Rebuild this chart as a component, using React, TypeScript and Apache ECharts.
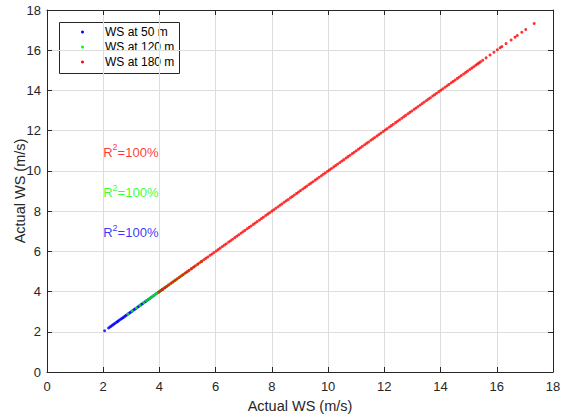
import React, { useEffect, useRef } from "react";
import * as echarts from "echarts";

// Wind speed samples (m/s); each point is plotted as (actual, actual)
const ws50: number[] = [
  2.05, 2.19, 2.24, 2.28, 2.33, 2.37, 2.41, 2.46, 2.5, 2.53, 2.57, 2.62, 2.66, 2.7, 2.74, 2.79,
  2.83, 2.88, 2.92, 2.95, 3.0, 3.04, 3.09, 3.13, 3.17, 3.22, 3.26, 3.3, 3.35, 3.39, 3.43, 3.48,
  3.52, 3.56, 3.61, 3.65, 3.7, 3.74, 3.79, 3.84, 3.9, 3.96, 4.03, 4.12, 4.2,
];
const ws120: number[] = [
  2.88, 3.03, 3.18, 3.31, 3.44, 3.54, 3.62, 3.69, 3.76, 3.83, 3.9, 3.96,
  4.01, 4.07, 4.13, 4.2, 4.26, 4.33, 4.39, 4.45, 4.52, 4.58, 4.65, 4.72, 4.8, 4.87, 4.95, 5.04,
  5.13, 5.24, 5.36, 5.5,
];
const ws180: number[] = [
  3.98, 4.05, 4.11, 4.19, 4.26, 4.33, 4.41, 4.48, 4.55, 4.62, 4.7, 4.77, 4.84, 4.92, 4.99, 5.06,
  5.14, 5.21, 5.28, 5.36, 5.43, 5.5, 5.58, 5.65, 5.72, 5.8, 5.87, 5.94, 6.02, 6.09, 6.16, 6.24,
  6.31, 6.38, 6.46, 6.53, 6.6, 6.68, 6.75, 6.82, 6.9, 6.97, 7.04, 7.12, 7.19, 7.26, 7.34, 7.41,
  7.48, 7.56, 7.63, 7.7, 7.78, 7.85, 7.92, 8.0, 8.07, 8.14, 8.22, 8.29, 8.36, 8.44, 8.51, 8.58,
  8.66, 8.73, 8.8, 8.88, 8.95, 9.02, 9.1, 9.17, 9.24, 9.32, 9.39, 9.46, 9.54, 9.61, 9.68, 9.76,
  9.83, 9.9, 9.98, 10.05, 10.12, 10.2, 10.27, 10.34, 10.42, 10.49, 10.56, 10.64, 10.71, 10.78,
  10.86, 10.93, 11.0, 11.08, 11.15, 11.22, 11.3, 11.37, 11.44, 11.52, 11.59, 11.66, 11.74, 11.81,
  11.88, 11.96, 12.03, 12.1, 12.18, 12.25, 12.32, 12.4, 12.47, 12.54, 12.62, 12.69, 12.76, 12.84,
  12.91, 12.98, 13.06, 13.13, 13.2, 13.28, 13.35, 13.42, 13.5, 13.57, 13.64, 13.72, 13.79, 13.86,
  13.94, 14.01, 14.08, 14.16, 14.23, 14.3, 14.38, 14.45, 14.52, 14.6, 14.67, 14.74, 14.82, 14.89,
  14.96, 15.04, 15.11, 15.18, 15.25, 15.31, 15.36, 15.42, 15.5, 15.62, 15.76, 15.9, 16.02, 16.12,
  16.18, 16.33, 16.51, 16.65, 16.73, 16.89, 17.03, 17.33,
];

const seriesNames = ["WS at 50 m", "WS at 120 m", "WS at 180 m"];
const seriesColors = ["#0000ff", "#00ff00", "#ff0000"];

// R² annotations: [x, y, text-colour index]
const r2Labels: [number, number, number][] = [
  [2, 11, 2],
  [2, 9, 1],
  [2, 7, 0],
];
const r2Value = "100%";

const axisTicks = { min: 0, max: 18, interval: 2 };

const FONT = "'Liberation Sans', Arial, Helvetica, sans-serif";
const DARK = "#262626";

export default function App() {
  const ref = useRef<HTMLDivElement>(null);

  useEffect(() => {
    if (!ref.current) return;
    const chart = echarts.init(ref.current, null, { renderer: "svg" });

    const sets = [ws50, ws120, ws180];

    const baseAxis = {
      type: "value" as const,
      min: axisTicks.min,
      max: axisTicks.max,
      interval: axisTicks.interval,
      axisLine: { show: true, onZero: false, lineStyle: { color: DARK, width: 1 } },
      axisTick: { show: true, inside: true, length: 5, lineStyle: { color: DARK } },
    };

    const legendRows = [32, 47, 62];

    chart.setOption({
      animation: false,
      backgroundColor: "#ffffff",
      grid: { left: 47, top: 10, right: 8, bottom: 46, containLabel: false, outerBoundsMode: "none" },
      xAxis: [
        {
          ...baseAxis,
          position: "bottom",
          name: "Actual WS (m/s)",
          nameLocation: "middle",
          nameGap: 26,
          nameMoveOverlap: false,
          nameTextStyle: { color: DARK, fontSize: 14.5, fontFamily: FONT },
          axisLabel: { color: DARK, fontSize: 13, fontFamily: FONT, margin: 8 },
          splitLine: { show: true, lineStyle: { color: "#dedede", width: 1 } },
        },
        {
          ...baseAxis,
          position: "top",
          axisLabel: { show: false },
          splitLine: { show: false },
        },
      ],
      yAxis: [
        {
          ...baseAxis,
          position: "left",
          name: "Actual WS (m/s)",
          nameLocation: "middle",
          nameGap: 20,
          nameMoveOverlap: false,
          nameTextStyle: { color: DARK, fontSize: 14.5, fontFamily: FONT },
          axisLabel: { color: DARK, fontSize: 13, fontFamily: FONT, margin: 6 },
          splitLine: { show: true, lineStyle: { color: "#dedede", width: 1 } },
        },
        {
          ...baseAxis,
          position: "right",
          axisLabel: { show: false },
          splitLine: { show: false },
        },
      ],
      series: [
        ...sets.map((arr, i) => ({
          type: "scatter",
          name: seriesNames[i],
          xAxisIndex: 0,
          yAxisIndex: 0,
          symbol: "circle",
          symbolSize: 3,
          itemStyle: { color: seriesColors[i] },
          data: arr.map((v) => [v, v]),
          z: 2 + i,
        })),
        {
          type: "scatter",
          name: "R2",
          xAxisIndex: 0,
          yAxisIndex: 0,
          symbolSize: 0,
          silent: true,
          z: 10,
          data: r2Labels.map(([x, y, c]) => ({
            value: [x, y],
            label: {
              show: true,
              position: "right",
              distance: 0,
              formatter: "{a|R}{s|2}{a|=" + r2Value + "}",
              rich: {
                a: { color: seriesColors[c], fontSize: 13, fontFamily: FONT, verticalAlign: "bottom", lineHeight: 16 },
                s: { color: seriesColors[c], fontSize: 9, fontFamily: FONT, verticalAlign: "top", lineHeight: 16, padding: [0, 0, 5, 0] },
              },
            },
          })),
        },
      ],
      graphic: [
        {
          type: "group",
          z: 100,
          children: [
            {
              type: "rect",
              shape: { x: 59.5, y: 22.5, width: 120, height: 51 },
              style: { fill: "#ffffff", stroke: DARK, lineWidth: 1 },
            },
            ...seriesNames.flatMap((n, i) => [
              {
                type: "circle",
                shape: { cx: 82.5, cy: legendRows[i], r: 1.5 },
                style: { fill: seriesColors[i] },
              },
              {
                type: "text",
                x: 105,
                y: legendRows[i],
                style: {
                  text: n,
                  fill: "#000000",
                  font: `12px ${FONT}`,
                  verticalAlign: "middle",
                  align: "left",
                },
              },
            ]),
          ],
        },
      ],
    });

    return () => chart.dispose();
  }, []);

  return (
    <div
      ref={ref}
      style={{ position: "fixed", left: 0, top: 0, width: 561, height: 418, background: "#fff" }}
    />
  );
}
